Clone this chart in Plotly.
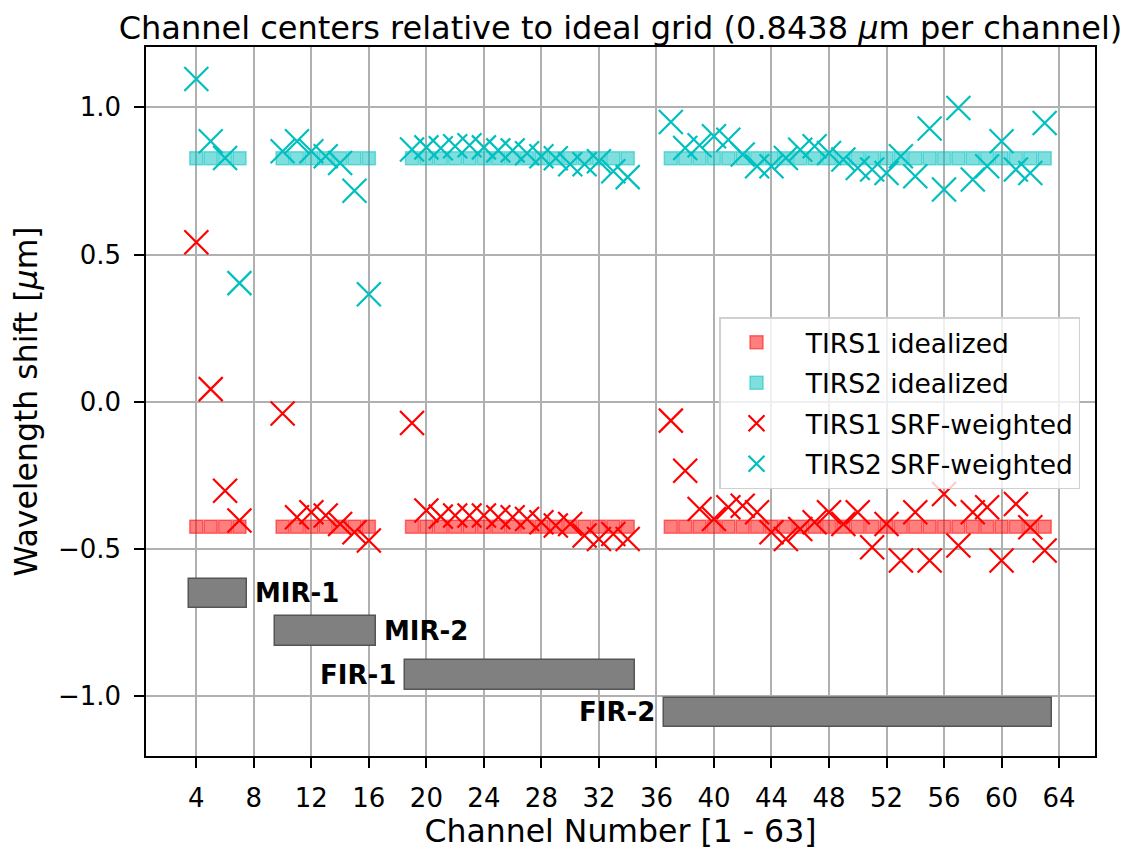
import plotly.graph_objects as go

# ---------------- data ----------------
channels = [4, 5, 6, 7,
            10, 11, 12, 13, 14, 15, 16,
            19, 20, 21, 22, 23, 24, 25, 26, 27, 28, 29, 30, 31, 32, 33, 34,
            37, 38, 39, 40, 41, 42, 43, 44, 45, 46, 47, 48, 49, 50, 51, 52, 53,
            54, 55, 56, 57, 58, 59, 60, 61, 62, 63]

tirs1_ideal = [
    -0.424, -0.424, -0.424, -0.424,
    -0.424, -0.424, -0.424, -0.424, -0.424, -0.424, -0.424,
    -0.424, -0.424, -0.424, -0.424, -0.424, -0.424, -0.424, -0.424,
    -0.424, -0.424, -0.424, -0.424, -0.424, -0.424, -0.424, -0.424,
    -0.424, -0.424, -0.424, -0.424, -0.424, -0.424, -0.424, -0.424, -0.424,
    -0.424, -0.424, -0.424, -0.424, -0.424, -0.424, -0.424, -0.424, -0.424,
    -0.424, -0.424, -0.424, -0.424, -0.424, -0.424, -0.424, -0.424, -0.424]

tirs2_ideal = [
    0.827, 0.827, 0.827, 0.827,
    0.827, 0.827, 0.827, 0.827, 0.827, 0.827, 0.827,
    0.827, 0.827, 0.827, 0.827, 0.827, 0.827, 0.827, 0.827,
    0.827, 0.827, 0.827, 0.827, 0.827, 0.827, 0.827, 0.827,
    0.827, 0.827, 0.827, 0.827, 0.827, 0.827, 0.827, 0.827, 0.827,
    0.827, 0.827, 0.827, 0.827, 0.827, 0.827, 0.827, 0.827, 0.827,
    0.827, 0.827, 0.827, 0.827, 0.827, 0.827, 0.827, 0.827, 0.827]

tirs1_srf = [
    0.542, 0.043, -0.302, -0.403,
    -0.040, -0.392, -0.375, -0.386, -0.415, -0.443, -0.471,
    -0.072, -0.369, -0.390, -0.386, -0.386, -0.386, -0.392, -0.392,
    -0.398, -0.409, -0.420, -0.415, -0.454, -0.466, -0.449, -0.466,
    -0.064, -0.234, -0.364, -0.398, -0.358, -0.353, -0.375, -0.443, -0.466,
    -0.432, -0.409, -0.375, -0.415, -0.375, -0.494, -0.415, -0.539,
    -0.375, -0.539, -0.313, -0.488, -0.375, -0.358, -0.539, -0.347, -0.426, -0.505]

tirs2_srf = [
    1.096, 0.885, 0.828, 0.403,
    0.851, 0.885, 0.851, 0.834, 0.811, 0.717, 0.365,
    0.857, 0.864, 0.861, 0.868, 0.871, 0.864, 0.854, 0.854,
    0.844, 0.834, 0.827, 0.807, 0.807, 0.817, 0.783, 0.763,
    0.950, 0.862, 0.871, 0.902, 0.890, 0.840, 0.800, 0.800, 0.828,
    0.856, 0.868, 0.845, 0.823, 0.794, 0.789, 0.777, 0.834,
    0.766, 0.928, 0.721, 0.998, 0.755, 0.800, 0.885, 0.789, 0.777, 0.947]

band_names = ["MIR-1", "MIR-2", "FIR-1", "FIR-2"]
band_start = [3.5, 9.5, 18.5, 36.5]
band_end = [7.5, 16.5, 34.5, 63.5]
band_center = [-0.651, -0.778, -0.928, -1.055]
band_height = 0.1
band_label_side = ["right", "right", "left", "left"]

x_ticks = [4, 8, 12, 16, 20, 24, 28, 32, 36, 40, 44, 48, 52, 56, 60, 64]

# ---------------- figure ----------------
FONT = "DejaVu Sans"
RED = "#ff0000"
CYAN = "#00bfbf"
LEG_PAD = "\u2002"  # small visual gap between legend symbol and label

fig = go.Figure()

fig.add_trace(go.Bar(
    orientation="h", y=band_center,
    x=[e - s for s, e in zip(band_start, band_end)],
    base=band_start, width=band_height,
    marker=dict(color="#808080", line=dict(color="#555555", width=1.5)),
    showlegend=False, hoverinfo="skip"))

fig.add_trace(go.Scatter(
    x=channels, y=tirs1_ideal, mode="markers", name=LEG_PAD + "TIRS1 idealized",
    legendgroup="a",
    marker=dict(symbol="square", size=13, color="rgba(255,0,0,0.5)",
                line=dict(color="rgba(255,0,0,0.5)", width=1.5))))
fig.add_trace(go.Scatter(
    x=channels, y=tirs2_ideal, mode="markers", name=LEG_PAD + "TIRS2 idealized",
    legendgroup="b",
    marker=dict(symbol="square", size=13, color="rgba(0,191,191,0.5)",
                line=dict(color="rgba(0,191,191,0.5)", width=1.5))))
fig.add_trace(go.Scatter(
    x=channels, y=tirs1_srf, mode="markers", name=LEG_PAD + "TIRS1 SRF-weighted",
    legendgroup="c",
    marker=dict(symbol="x-thin", size=24, color=RED,
                line=dict(color=RED, width=2.2))))
fig.add_trace(go.Scatter(
    x=channels, y=tirs2_srf, mode="markers", name=LEG_PAD + "TIRS2 SRF-weighted",
    legendgroup="d",
    marker=dict(symbol="x-thin", size=24, color=CYAN,
                line=dict(color=CYAN, width=2.2))))

for name, s, e, c, side in zip(band_names, band_start, band_end, band_center, band_label_side):
    if side == "right":
        fig.add_annotation(x=e, y=c, xref="x", yref="y", text="<b>%s</b>" % name,
                           showarrow=False, xanchor="left", yanchor="middle", xshift=6,
                           font=dict(family=FONT, size=26, color="black"))
    else:
        fig.add_annotation(x=s, y=c, xref="x", yref="y", text="<b>%s</b>" % name,
                           showarrow=False, xanchor="right", yanchor="middle", xshift=-7,
                           font=dict(family=FONT, size=26, color="black"))

axis_common = dict(
    showgrid=True, gridcolor="#b0b0b0", gridwidth=1.5,
    showline=True, linecolor="black", linewidth=1.5, mirror=True,
    ticks="outside", ticklen=10, tickwidth=1.5, tickcolor="black",
    zeroline=False, tickfont=dict(family=FONT, size=26, color="black"),
)

# The page body has an 8 px default margin, so the figure is 8 px smaller
# and margins are reduced accordingly to keep the plot area in place.
fig.update_layout(
    width=1120, height=842,
    margin=dict(l=136, r=33, t=39, b=94),
    paper_bgcolor="white", plot_bgcolor="white",
    font=dict(family=FONT, color="black"),
    title=dict(text="Channel centers relative to ideal grid (0.8438 <i>μ</i>m per channel)",
               x=0.5, xref="paper", xanchor="center",
               y=1 - 20 / 842, yref="container", yanchor="middle",
               font=dict(family=FONT, size=32, color="black")),
    xaxis=dict(range=[0.5, 66.5], tickmode="array", tickvals=x_ticks,
               ticklabelstandoff=8,
               title=dict(text="Channel Number [1 - 63]", standoff=2,
                          font=dict(family=FONT, size=31.5, color="black")),
               **axis_common),
    yaxis=dict(range=[-1.203, 1.205], tickmode="linear", tick0=0, dtick=0.5,
               tickformat=".1f", ticklabelstandoff=8,
               title=dict(text="Wavelength shift [<i>μ</i>m]", standoff=16,
                          font=dict(family=FONT, size=31.5, color="black")),
               **axis_common),
    legend=dict(x=0.6038, y=0.619, xanchor="left", yanchor="top",
                bgcolor="rgba(255,255,255,0.8)", bordercolor="#d0d0d0", borderwidth=1.5,
                font=dict(family=FONT, size=26.5, color="black"),
                traceorder="grouped", tracegroupgap=3, itemwidth=62),
    bargap=0,
    showlegend=True,
)

fig.write_html("out.html")
